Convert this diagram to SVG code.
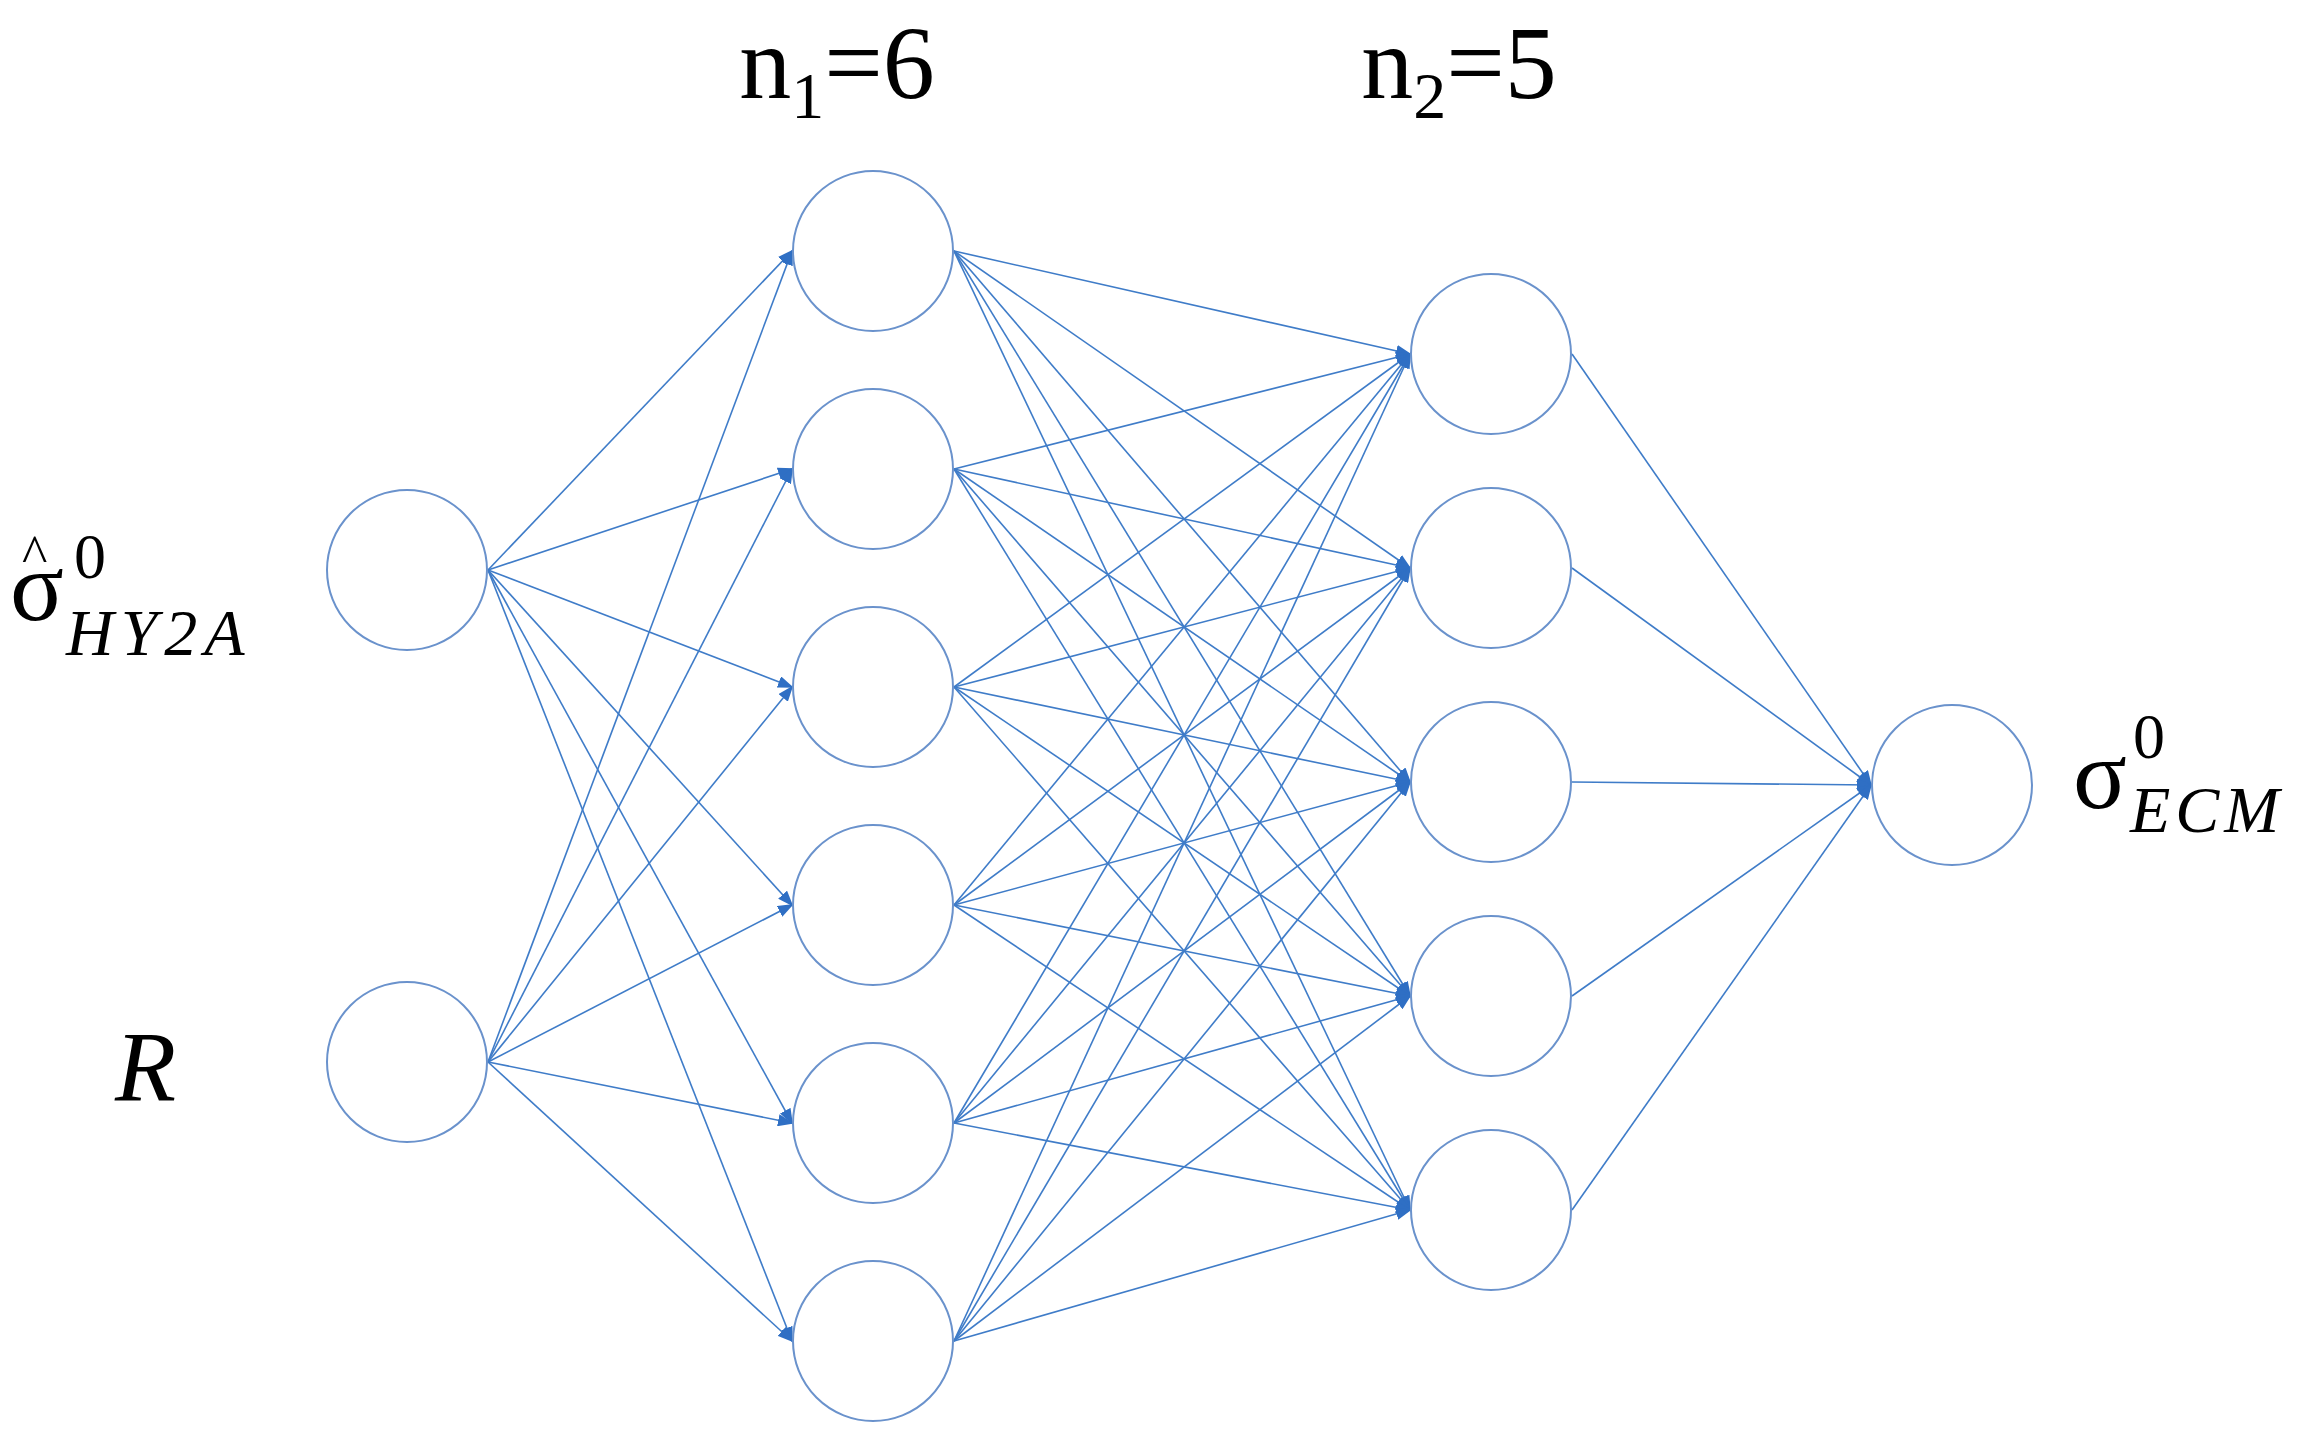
<svg xmlns="http://www.w3.org/2000/svg" width="2322" height="1445" viewBox="0 0 2322 1445">
<style>
.n{fill:#fff;stroke:#6a92cc;stroke-width:2}
.e line{stroke:#3f7cc8;stroke-width:1.6}
.t{font-family:"Liberation Serif",serif;fill:#000}
</style>
<defs><marker id="a" markerUnits="userSpaceOnUse" markerWidth="16" markerHeight="12" refX="14" refY="6" orient="auto"><path d="M0,0L16,6L0,12z" fill="#2f6fc4"/></marker></defs>
<rect width="2322" height="1445" fill="#fff"/>
<g id="conn" class="e">
<line x1="488" y1="570" x2="792" y2="251" marker-end="url(#a)"/><line x1="488" y1="570" x2="792" y2="469" marker-end="url(#a)"/><line x1="488" y1="570" x2="792" y2="687" marker-end="url(#a)"/><line x1="488" y1="570" x2="792" y2="905" marker-end="url(#a)"/><line x1="488" y1="570" x2="792" y2="1123" marker-end="url(#a)"/><line x1="488" y1="570" x2="792" y2="1341" marker-end="url(#a)"/>
<line x1="488" y1="1062" x2="792" y2="251" marker-end="url(#a)"/><line x1="488" y1="1062" x2="792" y2="469" marker-end="url(#a)"/><line x1="488" y1="1062" x2="792" y2="687" marker-end="url(#a)"/><line x1="488" y1="1062" x2="792" y2="905" marker-end="url(#a)"/><line x1="488" y1="1062" x2="792" y2="1123" marker-end="url(#a)"/><line x1="488" y1="1062" x2="792" y2="1341" marker-end="url(#a)"/>
<line x1="954" y1="251" x2="1410" y2="354" marker-end="url(#a)"/><line x1="954" y1="251" x2="1410" y2="568" marker-end="url(#a)"/><line x1="954" y1="251" x2="1410" y2="782" marker-end="url(#a)"/><line x1="954" y1="251" x2="1410" y2="996" marker-end="url(#a)"/><line x1="954" y1="251" x2="1410" y2="1210" marker-end="url(#a)"/>
<line x1="954" y1="469" x2="1410" y2="354" marker-end="url(#a)"/><line x1="954" y1="469" x2="1410" y2="568" marker-end="url(#a)"/><line x1="954" y1="469" x2="1410" y2="782" marker-end="url(#a)"/><line x1="954" y1="469" x2="1410" y2="996" marker-end="url(#a)"/><line x1="954" y1="469" x2="1410" y2="1210" marker-end="url(#a)"/>
<line x1="954" y1="687" x2="1410" y2="354" marker-end="url(#a)"/><line x1="954" y1="687" x2="1410" y2="568" marker-end="url(#a)"/><line x1="954" y1="687" x2="1410" y2="782" marker-end="url(#a)"/><line x1="954" y1="687" x2="1410" y2="996" marker-end="url(#a)"/><line x1="954" y1="687" x2="1410" y2="1210" marker-end="url(#a)"/>
<line x1="954" y1="905" x2="1410" y2="354" marker-end="url(#a)"/><line x1="954" y1="905" x2="1410" y2="568" marker-end="url(#a)"/><line x1="954" y1="905" x2="1410" y2="782" marker-end="url(#a)"/><line x1="954" y1="905" x2="1410" y2="996" marker-end="url(#a)"/><line x1="954" y1="905" x2="1410" y2="1210" marker-end="url(#a)"/>
<line x1="954" y1="1123" x2="1410" y2="354" marker-end="url(#a)"/><line x1="954" y1="1123" x2="1410" y2="568" marker-end="url(#a)"/><line x1="954" y1="1123" x2="1410" y2="782" marker-end="url(#a)"/><line x1="954" y1="1123" x2="1410" y2="996" marker-end="url(#a)"/><line x1="954" y1="1123" x2="1410" y2="1210" marker-end="url(#a)"/>
<line x1="954" y1="1341" x2="1410" y2="354" marker-end="url(#a)"/><line x1="954" y1="1341" x2="1410" y2="568" marker-end="url(#a)"/><line x1="954" y1="1341" x2="1410" y2="782" marker-end="url(#a)"/><line x1="954" y1="1341" x2="1410" y2="996" marker-end="url(#a)"/><line x1="954" y1="1341" x2="1410" y2="1210" marker-end="url(#a)"/>
<line x1="1572" y1="354" x2="1871" y2="785" marker-end="url(#a)"/><line x1="1572" y1="568" x2="1871" y2="785" marker-end="url(#a)"/><line x1="1572" y1="782" x2="1871" y2="785" marker-end="url(#a)"/><line x1="1572" y1="996" x2="1871" y2="785" marker-end="url(#a)"/><line x1="1572" y1="1210" x2="1871" y2="785" marker-end="url(#a)"/>
</g>
<g id="in1"><circle class="n" cx="407" cy="570" r="80"/></g>
<g id="in2"><circle class="n" cx="407" cy="1062" r="80"/></g>
<g id="h1_1"><circle class="n" cx="873" cy="251" r="80"/></g>
<g id="h1_2"><circle class="n" cx="873" cy="469" r="80"/></g>
<g id="h1_3"><circle class="n" cx="873" cy="687" r="80"/></g>
<g id="h1_4"><circle class="n" cx="873" cy="905" r="80"/></g>
<g id="h1_5"><circle class="n" cx="873" cy="1123" r="80"/></g>
<g id="h1_6"><circle class="n" cx="873" cy="1341" r="80"/></g>
<g id="h2_1"><circle class="n" cx="1491" cy="354" r="80"/></g>
<g id="h2_2"><circle class="n" cx="1491" cy="568" r="80"/></g>
<g id="h2_3"><circle class="n" cx="1491" cy="782" r="80"/></g>
<g id="h2_4"><circle class="n" cx="1491" cy="996" r="80"/></g>
<g id="h2_5"><circle class="n" cx="1491" cy="1210" r="80"/></g>
<g id="out"><circle class="n" cx="1952" cy="785" r="80"/></g>
<g id="labels" class="t">
<text x="837" y="98" font-size="104" text-anchor="middle">n<tspan font-size="66" dy="20">1</tspan><tspan dy="-20">=6</tspan></text>
<text x="1459" y="98" font-size="104" text-anchor="middle">n<tspan font-size="66" dy="20">2</tspan><tspan dy="-20">=5</tspan></text>
<text x="10" y="620" font-size="100">σ</text>
<text x="22" y="572" font-size="54">^</text>
<text x="74" y="578" font-size="64">0</text>
<text x="66" y="655" font-size="66" font-style="italic" letter-spacing="7">HY2A</text>
<text x="115" y="1100" font-size="100" font-style="italic">R</text>
<text x="2073" y="808" font-size="100">σ</text>
<text x="2133" y="758" font-size="64">0</text>
<text x="2130" y="832" font-size="66" font-style="italic" letter-spacing="5">ECM</text>
</g>
</svg>
